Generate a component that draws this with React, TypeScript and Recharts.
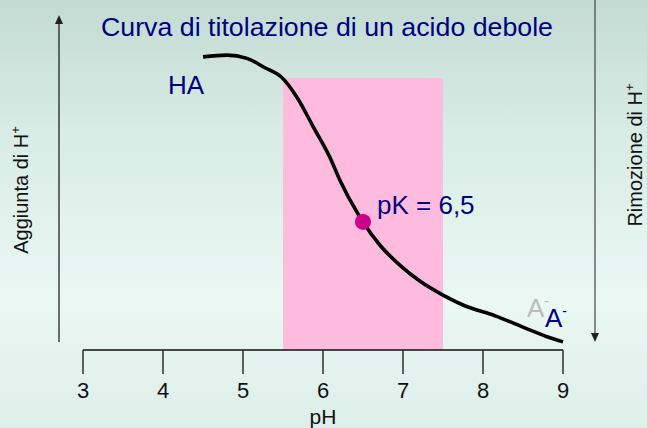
import { LineChart, Line, XAxis, YAxis, ReferenceArea, ReferenceDot, Label } from "recharts"

// pH on the x axis, fraction still protonated (HA) on the y axis
const phValues = [4.5, 4.8, 5.05, 5.28, 5.48, 5.68, 5.88, 6.09, 6.21, 6.43, 6.5, 6.71, 6.96, 7.21, 7.5, 7.75, 8.16, 8.53, 8.79, 9]
const protonated = [0.977, 0.983, 0.972, 0.94, 0.91, 0.84, 0.743, 0.64, 0.567, 0.457, 0.427, 0.35, 0.283, 0.23, 0.183, 0.15, 0.113, 0.073, 0.045, 0.027]
const xTicks = [3, 4, 5, 6, 7, 8, 9]
const bufferZone = [5.5, 7.5]
const bufferTop = 0.907
const pK = 6.5

const data = phValues.map((ph, i) => ({ ph, h: protonated[i] }))
const pKValue = protonated[phValues.indexOf(pK)]

const W = 647
const H = 428
const navy = "#000080"
const font = "'Liberation Sans', Arial, sans-serif"

export default function App() {
  return (
    <div
      style={{
        position: "absolute",
        left: 0,
        top: 0,
        width: W,
        height: H,
        fontFamily: font,
        background: "linear-gradient(to bottom, #c2dbd3 0%, #d8ebe5 30%, #eaf8f4 70%, #deeee9 100%)",
      }}
    >
      <LineChart width={W} height={H} data={data} margin={{ top: 5, right: 84, bottom: 0, left: 83 }}>
        <XAxis
          type="number"
          dataKey="ph"
          domain={[3, 9]}
          ticks={xTicks}
          interval={0}
          height={78}
          tickSize={24}
          tickMargin={8}
          tick={{ fontSize: 22, fill: "#111" }}
          axisLine={{ stroke: "#111", strokeWidth: 1.3 }}
          tickLine={{ stroke: "#111", strokeWidth: 1.3 }}
        >
          <Label value="pH" position="insideBottom" offset={4} fontSize={21} fill="#111" />
        </XAxis>
        <YAxis
          type="number"
          domain={[0, 1.15]}
          width={0}
          tick={false}
          tickLine={false}
          axisLine={{ stroke: "#333", strokeWidth: 1.3 }}
        />
        <ReferenceArea
          x1={bufferZone[0]}
          x2={bufferZone[1]}
          y1={0}
          y2={bufferTop}
          fill="#ffbbdd"
          fillOpacity={1}
          stroke="none"
        />
        <Line type="monotone" dataKey="h" stroke="#000" strokeWidth={3.6} dot={false} isAnimationActive={false} />
        <ReferenceDot x={pK} y={pKValue} r={8} fill="#cc0088" stroke="none" />
      </LineChart>

      <svg width={W} height={H} style={{ position: "absolute", left: 0, top: 0, pointerEvents: "none" }}>
        <text x={101} y={36} fontSize={25} fill={navy} textLength={452} lengthAdjust="spacingAndGlyphs">
          Curva di titolazione di un acido debole
        </text>
        <text x={168} y={94} fontSize={26} fill={navy}>HA</text>
        <text x={377} y={214} fontSize={26} fill={navy}>pK = 6,5</text>
        <text x={527} y={317} fontSize={26} fill="#bbbbbb">
          A<tspan dy={-11} fontSize={14}>-</tspan>
        </text>
        <text x={545} y={327} fontSize={26} fill={navy}>
          A<tspan dy={-11} fontSize={14}>-</tspan>
        </text>

        {/* arrows at the sides */}
        <line x1={59} y1={342} x2={59} y2={22} stroke="#222" strokeWidth={1.3} />
        <polygon points="59,15 55,24 63,24" fill="#222" />
        <line x1={595} y1={0} x2={595} y2={335} stroke="#444" strokeWidth={1.2} />
        <polygon points="595,342 591,333 599,333" fill="#222" />

        <text transform="translate(28,190) rotate(-90)" textAnchor="middle" fontSize={20} fill="#111">
          Aggiunta di H<tspan dy={-8} fontSize={13}>+</tspan>
        </text>
        <text transform="translate(642,155) rotate(-90)" textAnchor="middle" fontSize={20} fill="#111">
          Rimozione di H<tspan dy={-8} fontSize={13}>+</tspan>
        </text>
      </svg>
    </div>
  )
}
